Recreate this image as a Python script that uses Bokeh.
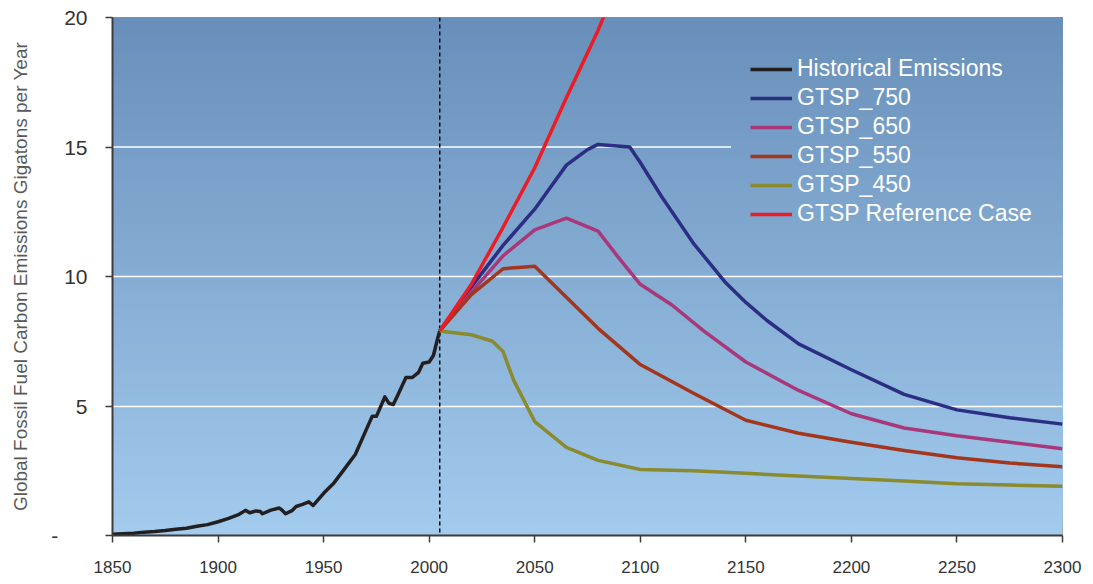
import numpy as np
from bokeh.plotting import figure
from bokeh.models import (FixedTicker, Span, Legend, LegendItem, Range1d)
from bokeh.embed import file_html
from bokeh.resources import INLINE

# ---------------- data ----------------
hist_years = [1850, 1855, 1860, 1865, 1870, 1875, 1880, 1885, 1890, 1895, 1900, 1905, 1910, 1913,
              1915, 1918, 1920, 1921, 1925, 1929, 1930, 1932, 1935, 1937, 1940, 1943, 1945, 1946,
              1950, 1955, 1960, 1965, 1970, 1973, 1975, 1979, 1981, 1983, 1985, 1989, 1992, 1995,
              1997, 2000, 2002, 2004, 2005]
hist_vals = [0.05, 0.07, 0.09, 0.13, 0.15, 0.19, 0.24, 0.28, 0.36, 0.42, 0.53, 0.66, 0.82, 0.97,
             0.88, 0.95, 0.93, 0.84, 0.98, 1.06, 1.0, 0.84, 0.96, 1.12, 1.2, 1.3, 1.16, 1.25,
             1.63, 2.04, 2.58, 3.13, 4.05, 4.6, 4.6, 5.35, 5.1, 5.06, 5.4, 6.1, 6.1, 6.3,
             6.65, 6.7, 6.95, 7.6, 7.9]

g750_years = [2005, 2020, 2035, 2050, 2065, 2075, 2080, 2095, 2100, 2110, 2125, 2140, 2150, 2160,
              2175, 2200, 2225, 2250, 2275, 2300]
g750_vals = [7.9, 9.6, 11.2, 12.6, 14.3, 14.9, 15.1, 15.0, 14.4, 13.1, 11.3, 9.8, 9.0, 8.3,
             7.4, 6.4, 5.45, 4.85, 4.55, 4.3]

g650_years = [2005, 2020, 2035, 2050, 2065, 2080, 2090, 2100, 2115, 2130, 2150, 2175, 2200, 2225,
              2250, 2275, 2300]
g650_vals = [7.9, 9.4, 10.8, 11.8, 12.25, 11.75, 10.7, 9.7, 8.9, 7.9, 6.7, 5.6, 4.7, 4.15,
             3.85, 3.6, 3.35]

g550_years = [2005, 2020, 2035, 2050, 2065, 2080, 2100, 2125, 2150, 2175, 2200, 2225, 2250, 2275, 2300]
g550_vals = [7.9, 9.3, 10.3, 10.4, 9.2, 8.0, 6.6, 5.5, 4.45, 3.95, 3.6, 3.28, 3.0, 2.8, 2.65]

g450_years = [2005, 2020, 2030, 2035, 2040, 2050, 2065, 2080, 2100, 2125, 2150, 2175, 2200, 2225,
              2250, 2275, 2300]
g450_vals = [7.9, 7.75, 7.5, 7.1, 6.0, 4.4, 3.4, 2.9, 2.55, 2.5, 2.4, 2.3, 2.2, 2.1,
             2.0, 1.95, 1.9]

ref_years = [2005, 2020, 2035, 2050, 2065, 2080, 2095]
ref_vals = [7.9, 9.7, 11.9, 14.2, 16.9, 19.5, 22.5]

series_names = ["Historical Emissions", "GTSP_750", "GTSP_650", "GTSP_550", "GTSP_450",
                "GTSP Reference Case"]
x_ticks = [1850, 1900, 1950, 2000, 2050, 2100, 2150, 2200, 2250, 2300]
y_ticks = [0, 5, 10, 15, 20]
y_tick_labels = {0: "-" + "\u00a0" * 5, 5: "5", 10: "10", 15: "15", 20: "20"}
divider_year = 2005
y_label = "Global Fossil Fuel Carbon Emissions Gigatons per Year"

colors = ["#231f20", "#2b2e82", "#a8387a", "#a3361c", "#8a8a2e", "#ec1c24"]

# ---------------- figure ----------------
p = figure(frame_width=950, frame_height=518, output_backend="svg", toolbar_location=None,
           x_range=Range1d(1850, 2300), y_range=Range1d(0, 20),
           min_border_left=112, min_border_right=31, min_border_top=17, min_border_bottom=49)
p.border_fill_color = "white"
p.outline_line_color = "#a6a6a6"
p.outline_line_width = 1

# gradient background (decorative, overlapping bands so no seams)
n = 80
edges = np.linspace(0, 20, n + 1)
top_c = np.array([104, 143, 185])
bot_c = np.array([162, 203, 238])
cols = []
for i in range(n):
    t = (edges[i] + edges[i + 1]) / 2 / 20.0
    c = bot_c + (top_c - bot_c) * t
    cols.append("#%02x%02x%02x" % tuple(int(round(v)) for v in c))
p.quad(left=1850, right=2300, bottom=edges[:-1], top=20, fill_color=cols,
       line_color=None, level="image")

# grid
p.xgrid.visible = False
p.ygrid.ticker = FixedTicker(ticks=[5, 10])
p.ygrid.grid_line_color = "white"
p.ygrid.grid_line_width = 1.5
p.segment(x0=[1850], y0=[15], x1=[2143], y1=[15], line_color="white", line_width=1.5,
          level="underlay")

# axes
p.xaxis.ticker = FixedTicker(ticks=x_ticks)
p.yaxis.ticker = FixedTicker(ticks=y_ticks)
p.yaxis.major_label_overrides = y_tick_labels
p.xaxis.minor_tick_line_color = None
p.yaxis.minor_tick_line_color = None
for ax in (p.xaxis, p.yaxis):
    ax.axis_line_color = "#3c3c3c"
    ax.axis_line_width = 2
    ax.major_tick_line_color = "#3c3c3c"
    ax.major_tick_line_width = 1.5
    ax.major_tick_in = 0
    ax.major_tick_out = 7
    ax.major_label_text_font = "Liberation Sans"
    ax.major_label_text_color = "#333333"
p.xaxis.major_label_text_font_size = "17px"
p.xaxis.major_label_standoff = 18
p.yaxis.major_label_text_font_size = "21px"
p.yaxis.major_label_standoff = 18
p.yaxis.axis_label = y_label
p.yaxis.axis_label_text_font = "Liberation Sans"
p.yaxis.axis_label_text_font_size = "19px"
p.yaxis.axis_label_text_font_style = "normal"
p.yaxis.axis_label_text_color = "#595959"
p.yaxis.axis_label_standoff = 17

# divider
p.add_layout(Span(location=divider_year, dimension="height", line_color="black",
                  line_width=1.5, line_dash="4 3", level="underlay"))

# lines
data = [(hist_years, hist_vals), (g750_years, g750_vals), (g650_years, g650_vals),
        (g550_years, g550_vals), (g450_years, g450_vals), (ref_years, ref_vals)]
renderers = []
for (xs, ys), c in zip(data, colors):
    r = p.line(xs, ys, line_color=c, line_width=3.5, line_join="round")
    renderers.append(r)

legend = Legend(items=[LegendItem(label=nm, renderers=[r]) for nm, r in zip(series_names, renderers)],
                location=(638, 308), background_fill_alpha=0, border_line_alpha=0,
                padding=0, margin=0, spacing=2, glyph_width=42, glyph_height=20,
                label_standoff=5, label_text_font="Liberation Sans",
                label_text_font_size="23px", label_text_color="white")
p.add_layout(legend)

open("out.html", "w").write(file_html(p, INLINE))
